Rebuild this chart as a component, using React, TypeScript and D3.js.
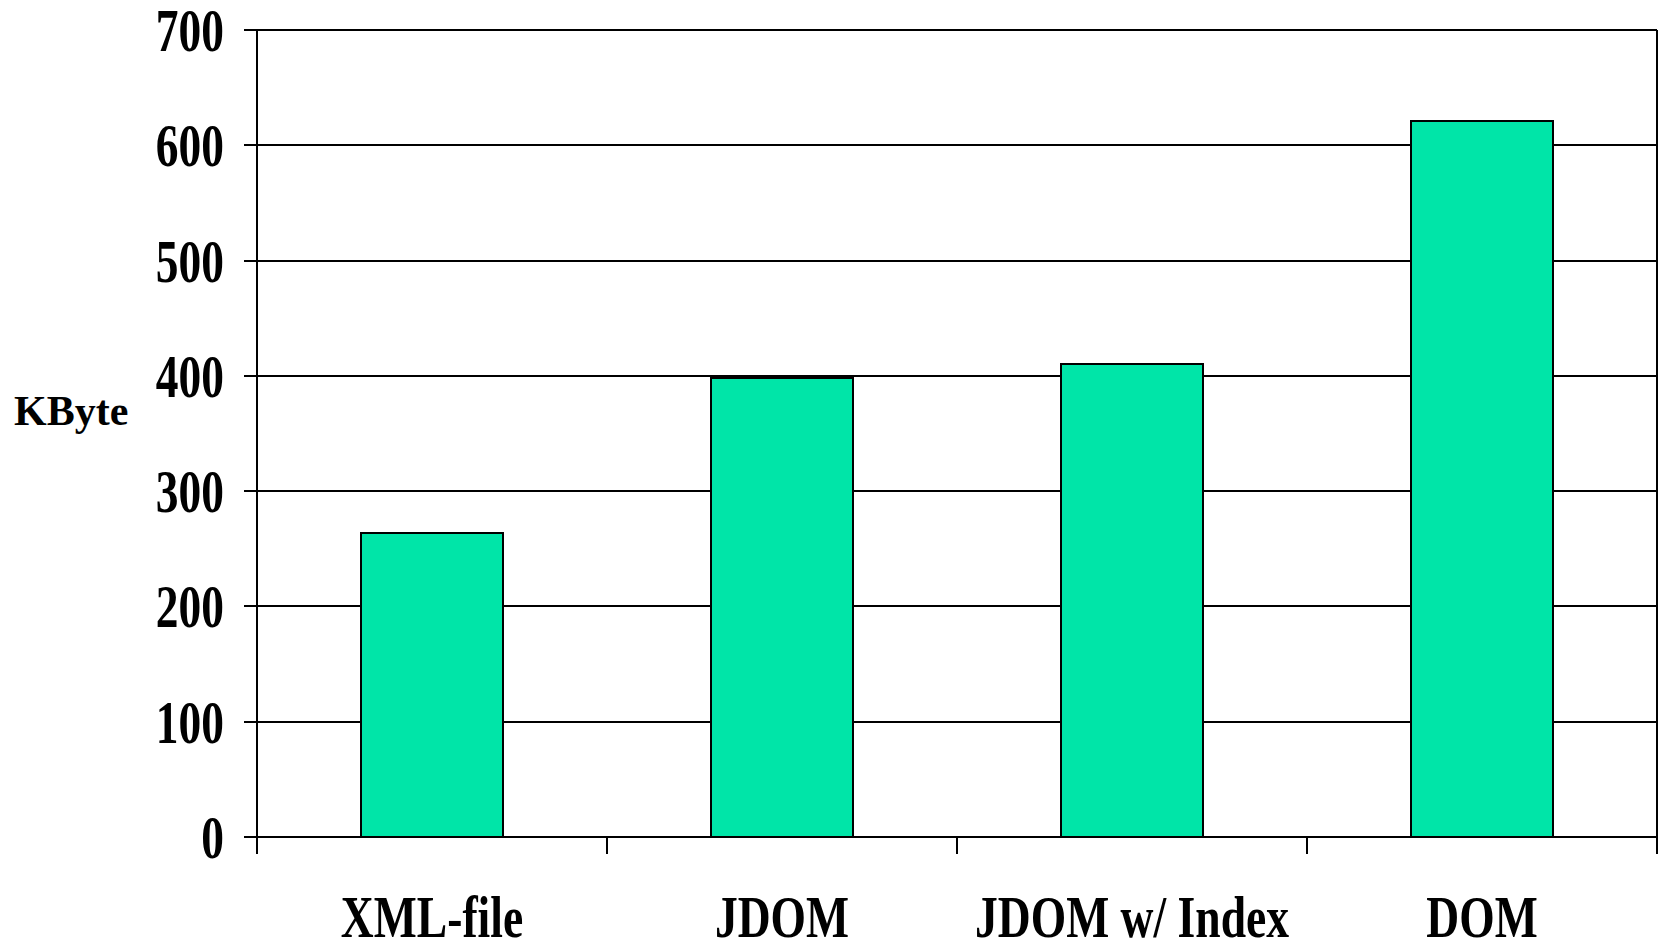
import React from "react";
import * as d3 from "d3";

const categories = ["XML-file", "JDOM", "JDOM w/ Index", "DOM"];
const values = [264, 398, 410, 621];
const yTicks = [0, 100, 200, 300, 400, 500, 600, 700];
const yLabel = "KByte";

const W = 1659;
const H = 945;
const FONT = "'Liberation Serif', 'Times New Roman', Times, serif";

export default function App() {
  const y = d3.scaleLinear().domain([0, 700]).range([837, 30]);
  const x = d3
    .scaleBand<string>()
    .domain(categories)
    .range([257, 1657])
    .paddingInner(0.594)
    .paddingOuter(0.297);
  const step = x.step();
  const left = x.range()[0];
  const right = x.range()[1];
  const boundaries = d3.range(categories.length + 1).map((i) => left + i * step);

  return (
    <svg
      width={W}
      height={H}
      style={{ position: "absolute", left: 0, top: 0, background: "#fff" }}
    >
      <g shapeRendering="crispEdges">
        {/* gridlines + y ticks */}
        {yTicks.map((t) => (
          <line key={t} x1={244} x2={right} y1={y(t)} y2={y(t)} stroke="#000" strokeWidth={2} />
        ))}
        {/* right border */}
        <line x1={right} x2={right} y1={y(700)} y2={y(0)} stroke="#000" strokeWidth={2} />
        {/* bars */}
        {categories.map((c, i) => (
          <rect
            key={c}
            x={x(c)}
            y={y(values[i])}
            width={x.bandwidth()}
            height={y(0) - y(values[i])}
            fill="#00E5A8"
            stroke="#000"
            strokeWidth={2}
          />
        ))}
        {/* y axis */}
        <line x1={left} x2={left} y1={y(700)} y2={854} stroke="#000" strokeWidth={2} />
        {/* x axis */}
        <line x1={244} x2={right} y1={y(0)} y2={y(0)} stroke="#000" strokeWidth={2} />
        {boundaries.map((b, i) => (
          <line key={i} x1={b} x2={b} y1={y(0)} y2={854} stroke="#000" strokeWidth={2} />
        ))}
      </g>
      {yTicks.map((t) => (
        <text
          key={t}
          transform={`translate(224,${y(t) + 21}) scale(0.745,1)`}
          textAnchor="end"
          fontFamily={FONT}
          fontWeight="bold"
          fontSize={61}
          fill="#000"
        >
          {t}
        </text>
      ))}
      {/* x labels */}
      {categories.map((c) => (
        <text
          key={c}
          transform={`translate(${(x(c) as number) + x.bandwidth() / 2},937) scale(0.76,1)`}
          textAnchor="middle"
          fontFamily={FONT}
          fontWeight="bold"
          fontSize={60}
          fill="#000"
        >
          {c}
        </text>
      ))}
      {/* y label */}
      <text x={14} y={425} fontFamily={FONT} fontWeight="bold" fontSize={42} fill="#000">
        {yLabel}
      </text>
    </svg>
  );
}
